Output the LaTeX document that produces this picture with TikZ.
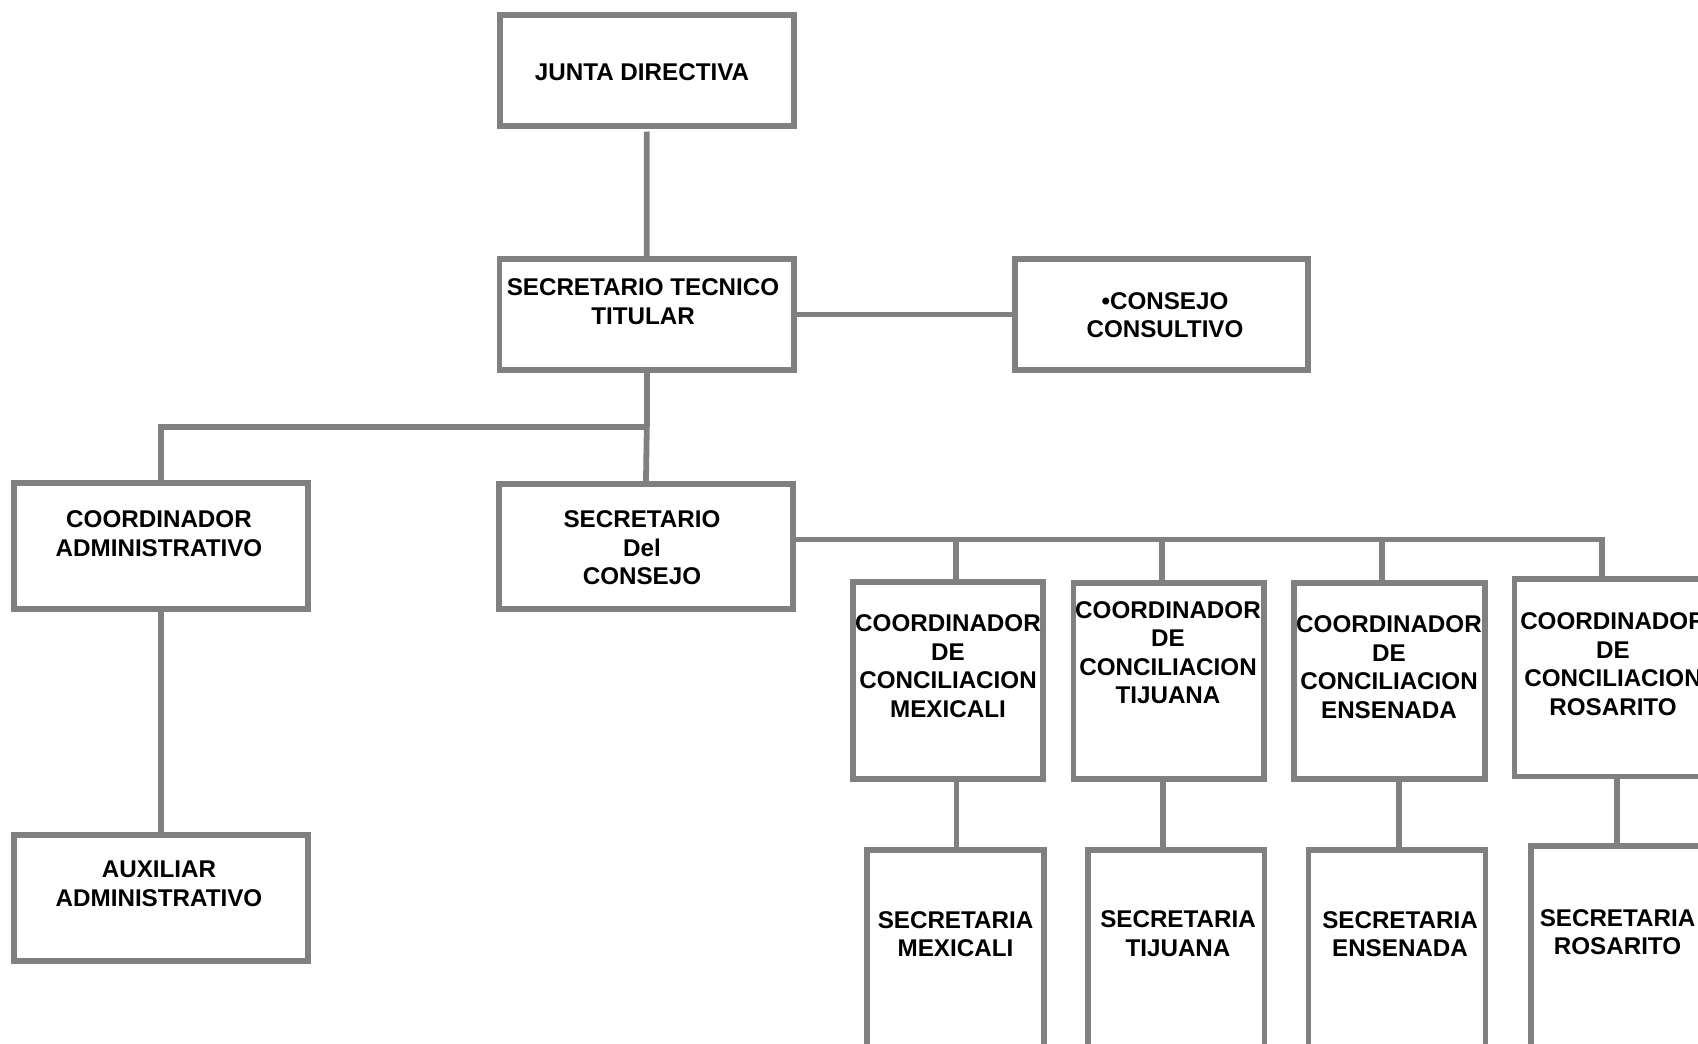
\documentclass[tikz,border=0pt]{standalone}
\usepackage{fontspec}
\setmainfont{Liberation Sans}
\definecolor{linegray}{HTML}{808080}
\begin{document}
\begin{tikzpicture}[x=1pt,y=-1pt,
  box/.style={draw=linegray, line width=5.8pt, inner sep=0pt, fill=white},
  txt/.style={align=center, inner sep=0pt, text=black, font=\fontsize{24.2}{28.5}\selectfont\bfseries},
  conn/.style={draw=linegray, line width=5.8pt}]
\useasboundingbox (0,0) rectangle (1698,1044);
\clip (0,0) rectangle (1698,1044);
% boxes
\node[box, minimum width=294pt, minimum height=111pt] (junta) at (646.7,70.6) {};
\node[box, minimum width=294.7pt, minimum height=111.5pt] (sectec) at (646.8,314.4) {};
\node[box, minimum width=293pt, minimum height=111.5pt] (consejo) at (1161.5,314.4) {};
\node[box, minimum width=294pt, minimum height=126pt] (coordadm) at (161,546) {};
\node[box, minimum width=294pt, minimum height=126pt] (auxadm) at (161,898) {};
\node[box, minimum width=294pt, minimum height=125pt] (secdel) at (646,546.2) {};
\node[box, minimum width=189.5pt, minimum height=196.6pt] (mexc) at (948,680.5) {};
\node[box, minimum width=190.6pt, minimum height=196pt] (tijc) at (1168.8,681) {};
\node[box, minimum width=190.9pt, minimum height=196pt] (ensc) at (1389.4,681) {};
\node[box, minimum width=197pt, minimum height=197.8pt] (rosc) at (1613,677.5) {};
\node[box, minimum width=177pt, minimum height=250.4pt] (mexs) at (955.5,974.8) {};
\node[box, minimum width=176.5pt, minimum height=250.4pt] (tijs) at (1176.3,974.8) {};
\node[box, minimum width=177pt, minimum height=250.4pt] (enss) at (1397,974.8) {};
\node[box, minimum width=177pt, minimum height=254pt] (ross) at (1619.5,973) {};
% connector guides
\coordinate (busL) at (0,426.7);
\coordinate (busR) at (0,539.5);
\coordinate (xMexU) at (956,0);
\coordinate (xTijU) at (1161.6,0);
\coordinate (xEnsU) at (1382,0);
\coordinate (xRosU) at (1602,0);
\coordinate (xMexL) at (956.5,0);
\coordinate (xTijL) at (1163,0);
\coordinate (xEnsL) at (1399,0);
\coordinate (xRosL) at (1617,0);
% connectors
\draw[conn] ([yshift=-2.5pt]junta.south) -- (sectec.north);
\draw[conn] (sectec.east) -- (consejo.west);
\draw[conn] (sectec.south) -- (sectec.south |- busL);
\draw[conn] (sectec.south |- busL) -| (coordadm.north);
\draw[conn] (sectec.south |- busL) -- (secdel.north);
\draw[conn] (coordadm.south) -- (auxadm.north);
\draw[conn] (secdel.east |- busR) -| (xRosU |- rosc.north);
\draw[conn] (xMexU |- busR) -- (xMexU |- mexc.north);
\draw[conn] (xTijU |- busR) -- (xTijU |- tijc.north);
\draw[conn] (xEnsU |- busR) -- (xEnsU |- ensc.north);
\draw[conn] (xMexL |- mexc.south) -- (xMexL |- mexs.north);
\draw[conn] (xTijL |- tijc.south) -- (xTijL |- tijs.north);
\draw[conn] (xEnsL |- ensc.south) -- (xEnsL |- enss.north);
\draw[conn] (xRosL |- rosc.south) -- (xRosL |- ross.north);
% texts
\node[txt] (tjunta) at (642,71.7) {JUNTA DIRECTIVA};
\node[txt] (tsectec) at (643,301.5) {SECRETARIO TECNICO\\TITULAR};
\node[txt] (tconsejo) at (1165,315) {•CONSEJO\\CONSULTIVO};
\node[txt] (tcoordadm) at (159,533.8) {COORDINADOR\\ADMINISTRATIVO};
\node[txt] (tauxadm) at (159,884) {AUXILIAR\\ADMINISTRATIVO};
\node[txt] (tsecdel) at (642,548) {SECRETARIO\\Del\\CONSEJO};
\node[txt] (tmexc) at (948,666) {COORDINADOR\\DE\\CONCILIACION\\MEXICALI};
\node[txt] (ttijc) at (1168,652.5) {COORDINADOR\\DE\\CONCILIACION\\TIJUANA};
\node[txt] (tensc) at (1389,667) {COORDINADOR\\DE\\CONCILIACION\\ENSENADA};
\node[txt] (trosc) at (1613,664) {COORDINADOR\\DE\\CONCILIACION\\ROSARITO};
\node[txt] (tmexs) at (955.5,934) {SECRETARIA\\MEXICALI};
\node[txt] (ttijs) at (1178,933.5) {SECRETARIA\\TIJUANA};
\node[txt] (tenss) at (1400,934) {SECRETARIA\\ENSENADA};
\node[txt] (tross) at (1617.5,932) {SECRETARIA\\ROSARITO};
\end{tikzpicture}
\end{document}
